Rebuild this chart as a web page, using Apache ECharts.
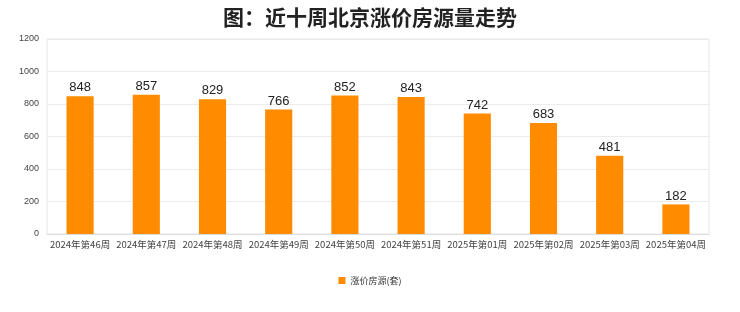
<!DOCTYPE html>
<html><head><meta charset="utf-8">
<script src="https://cdn.jsdelivr.net/npm/echarts@6/dist/echarts.min.js"></script>
<style>html,body{margin:0;padding:0;background:#fff}#c{width:740px;height:312px}</style>
</head><body><div id="c"></div>
<script>
const categories = ['2024年第46周','2024年第47周','2024年第48周','2024年第49周','2024年第50周','2024年第51周','2025年第01周','2025年第02周','2025年第03周','2025年第04周'];
const values = [848, 857, 829, 766, 852, 843, 742, 683, 481, 182];
const seriesName = '涨价房源(套)';
const titleText = '图：近十周北京涨价房源量走势';
const chart = echarts.init(document.getElementById('c'));
chart.setOption({
  animation: false,
  title: { text: titleText, left: 'center', top: 2, textStyle: { fontSize: 21, fontWeight: 'bold', color: '#222', fontFamily: 'Noto Sans CJK SC' } },
  grid: { left: 47, right: 31, top: 39, bottom: 78, show: true, borderColor: '#e6e6e6', borderWidth: 1 },
  legend: { bottom: 22, left: 'center', itemWidth: 7, itemHeight: 7, icon: 'rect', textStyle: { fontSize: 9, color: '#333', fontFamily: 'Noto Sans CJK SC' }, data: [seriesName] },
  xAxis: { type: 'category', data: categories, axisLine: { lineStyle: { color: '#ddd' } }, axisTick: { show: false },
    axisLabel: { fontSize: 9.5, color: '#444', interval: 0, margin: 6, fontFamily: 'Noto Sans CJK SC' } },
  yAxis: { type: 'value', min: 0, max: 1200, interval: 200, axisLine: { show: false }, axisTick: { show: false },
    axisLabel: { fontSize: 9, color: '#444', margin: 8, formatter: v => String(v) }, splitLine: { lineStyle: { color: '#ebebeb' } } },
  series: [{ name: seriesName, type: 'bar', data: values, barWidth: '41%', itemStyle: { color: '#FF8C00' },
    label: { show: true, position: 'top', fontSize: 13, color: '#222', distance: 2 } }]
});
</script></body></html>
